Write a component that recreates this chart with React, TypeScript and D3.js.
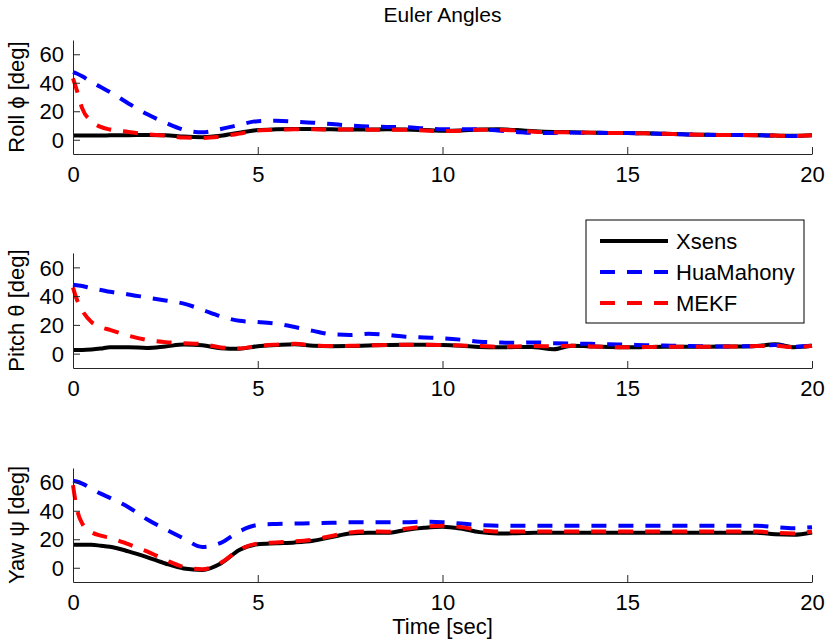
import React, { useEffect, useRef } from "react";
import * as d3 from "d3";

// sample times (sec)
const time = [0, 0.1, 0.25, 0.5, 0.75, 1, 1.5, 2, 2.5, 3, 3.5, 4, 4.5, 5, 5.5, 6, 6.5, 7, 7.5, 8, 8.5, 9, 9.5, 10, 10.5, 11, 11.5, 12, 12.5, 13, 13.5, 14, 14.5, 15, 15.5, 16, 16.5, 17, 17.5, 18, 18.5, 19, 19.5, 20];

const rollXsens = [3, 3, 3, 3, 3, 3.1, 3.2, 3.3, 3.2, 2.2, 1.8, 2.8, 5, 6.8, 7.3, 7.5, 7.5, 7.3, 7.2, 7.2, 7.3, 7.2, 6.8, 6.3, 6.5, 7.2, 7.3, 6.8, 6, 5.5, 5.3, 5, 4.8, 4.7, 4.5, 4.2, 3.8, 3.5, 3.4, 3.3, 3.2, 2.9, 2.8, 3.2];
const rollHua = [47.5, 46.5, 44.5, 40.5, 37, 33.5, 25.5, 18, 12, 7, 5.2, 7.5, 10.5, 13, 13.3, 12.7, 12, 11, 10, 9.3, 9, 8.8, 8, 7.3, 7.3, 7.3, 6.5, 5.5, 4.8, 4.8, 5, 5, 4.8, 4.7, 4.5, 4.2, 3.8, 3.5, 3.4, 3.3, 3.2, 2.9, 2.6, 3];
const rollMekf = [43, 35, 22, 13, 9, 7.2, 5.5, 3.8, 3, 1.5, 1.3, 2.3, 4.3, 6.5, 7.1, 7.3, 7.3, 7.2, 7.2, 7.1, 7.1, 7, 6.5, 6.1, 6.3, 7, 7, 6.5, 5.6, 5.3, 5.2, 5, 4.8, 4.7, 4.5, 4.2, 3.8, 3.5, 3.4, 3.3, 3.2, 2.9, 2.7, 3.1];

const pitchXsens = [2.5, 2.5, 2.5, 2.8, 3.5, 4.5, 4.5, 4, 5, 6.3, 5.8, 3.8, 3.4, 5.2, 6, 6.6, 5.5, 5.2, 5.3, 5.7, 6, 6.1, 6.1, 6, 5.5, 4.6, 4.4, 4.6, 4.5, 3, 5.5, 5, 4.6, 4.4, 4.6, 4.8, 4.7, 4.8, 4.9, 5, 5.3, 6.5, 4.5, 5.5];
const pitchHua = [48, 47.6, 47, 45.5, 44.3, 43, 41.2, 39, 37, 34.8, 30.5, 26, 22.8, 22, 20.8, 18.5, 15.8, 13.5, 13, 13.8, 13, 11.8, 11.2, 10.7, 9.7, 8.3, 7.8, 7.5, 7.8, 7.3, 7, 6.8, 6.5, 6.2, 5.9, 5.6, 5.3, 5.1, 5, 5.1, 5.3, 6, 4.8, 5.5];
const pitchMekf = [46, 38, 30, 22, 18.5, 16.5, 12.5, 9.5, 8, 7.3, 6.6, 4.3, 3.6, 5.3, 6.2, 6.8, 5.7, 5.3, 5.4, 5.7, 6, 6.1, 6.1, 6, 5.6, 5.3, 4.8, 5, 5.3, 5, 5.5, 5, 4.6, 4.4, 4.6, 4.8, 4.7, 4.8, 4.9, 5, 5.3, 5.5, 4.5, 5.5];

const yawXsens = [16.2, 16.2, 16.2, 16.1, 15.5, 14.8, 11.5, 7.5, 3, -0.5, -1.5, 3, 12.5, 16.5, 17.2, 17.8, 19, 21.5, 24, 24.6, 24.5, 26.5, 28, 28.8, 27.5, 25, 24, 24.2, 24.5, 24.5, 24.5, 24.5, 24.5, 24.5, 24.5, 24.5, 24.5, 24.5, 24.5, 24.5, 24.5, 23.5, 23.2, 24.8];
const yawHua = [61, 60.5, 59, 55.5, 52, 49, 42.5, 34, 27, 20.5, 14.6, 17.5, 25.5, 30, 30.7, 31, 31.3, 31.5, 32, 32, 32, 32, 32.3, 32, 31, 30, 29.5, 29.5, 29.5, 29.5, 29.5, 29.5, 29.5, 29.5, 29.5, 29.5, 29.5, 29.5, 29.5, 29.5, 29.5, 28.5, 27.7, 28.5];
const yawMekf = [58, 42, 31, 25, 22.5, 21, 16.5, 11.5, 5.5, 0.5, -1, 3.5, 12.5, 17, 17.8, 18.5, 19.8, 22.3, 24.8, 25.5, 25.3, 27.3, 28.8, 29.5, 28.5, 26.5, 25.5, 25.5, 25.5, 25.5, 25.5, 25.5, 25.5, 25.5, 25.5, 25.5, 25.5, 25.5, 25.5, 25.5, 25.5, 24.5, 24, 25.5];

const seriesNames = ["Xsens", "HuaMahony", "MEKF"];
const yLabels = ["Roll \u03d5 [deg]", "Pitch \u03b8 [deg]", "Yaw \u03c8 [deg]"];
const xTicks = [0, 5, 10, 15, 20];
const yTicks = [0, 20, 40, 60];

const App = () => {
  const chartRef = useRef<SVGSVGElement>(null);

  useEffect(() => {
    const width = 826;
    const height = 642;
    const font = "'Liberation Sans', Arial, Helvetica, sans-serif";
    const fontSize = 22;
    const colors = ["#000000", "#0000ff", "#ff0000"];
    const dashes = [null, "15 12", "15 12"];

    const svg = d3.select(chartRef.current);
    svg.selectAll("*").remove();
    svg.attr("width", width).attr("height", height);

    const panels = [
      { label: yLabels[0], data: [rollXsens, rollHua, rollMekf], top: 40, bottom: 154 },
      { label: yLabels[1], data: [pitchXsens, pitchHua, pitchMekf], top: 253, bottom: 368 },
      { label: yLabels[2], data: [yawXsens, yawHua, yawMekf], top: 468, bottom: 582 },
    ];

    const x = d3.scaleLinear().domain([0, 20]).range([73, 812]);

    panels.forEach((p) => {
      const y = d3.scaleLinear().domain([-10, 70]).range([p.bottom, p.top]);
      const g = svg.append("g");

      // series lines
      p.data.forEach((vals, i) => {
        const line = d3
          .line<number>()
          .x((_, j) => x(time[j]))
          .y((d) => y(d))
          .curve(d3.curveMonotoneX);
        g.append("path")
          .datum(vals)
          .attr("d", line)
          .attr("fill", "none")
          .attr("stroke", colors[i])
          .attr("stroke-width", 4)
          .attr("stroke-dasharray", dashes[i])
          .attr("stroke-linejoin", "round");
      });

      // axes
      const xAxis = g
        .append("g")
        .attr("transform", `translate(0,${p.bottom})`)
        .call(d3.axisBottom(x).tickValues(xTicks).tickSizeInner(-7).tickSizeOuter(0).tickPadding(12));
      const yAxis = g
        .append("g")
        .attr("transform", `translate(${x(0)},0)`)
        .call(d3.axisLeft(y).tickValues(yTicks).tickSizeInner(-7).tickSizeOuter(0).tickPadding(9));

      [xAxis, yAxis].forEach((a) => {
        a.selectAll("path,line").attr("stroke", "#262626");
        a.selectAll("text").attr("font-family", font).attr("font-size", fontSize).attr("fill", "#000");
      });
      yAxis.selectAll("text").attr("dy", "0.35em");

      // y label
      g.append("text")
        .attr("transform", `translate(24,${(p.top + p.bottom) / 2}) rotate(-90)`)
        .attr("text-anchor", "middle")
        .attr("font-family", font)
        .attr("font-size", fontSize)
        .text(p.label);
    });

    // title
    svg
      .append("text")
      .attr("x", x(10))
      .attr("y", 22)
      .attr("text-anchor", "middle")
      .attr("font-family", font)
      .attr("font-size", 21)
      .text("Euler Angles");

    // x label
    svg
      .append("text")
      .attr("x", x(10))
      .attr("y", 634)
      .attr("text-anchor", "middle")
      .attr("font-family", font)
      .attr("font-size", fontSize)
      .text("Time [sec]");

    // legend
    const legend = svg.append("g").attr("transform", "translate(586,220)");
    legend
      .append("rect")
      .attr("width", 218)
      .attr("height", 103)
      .attr("fill", "#fff")
      .attr("stroke", "#000")
      .attr("stroke-width", 1);

    seriesNames.forEach((name, i) => {
      const cy = 21 + i * 31;
      legend
        .append("line")
        .attr("x1", 14)
        .attr("x2", 82)
        .attr("y1", cy)
        .attr("y2", cy)
        .attr("stroke", colors[i])
        .attr("stroke-width", 4)
        .attr("stroke-dasharray", dashes[i]);
      legend
        .append("text")
        .attr("x", 90)
        .attr("y", cy)
        .attr("dy", "0.35em")
        .attr("font-family", font)
        .attr("font-size", fontSize)
        .text(name);
    });
  }, []);

  return (
    <svg
      ref={chartRef}
      style={{ position: "absolute", left: 0, top: 0, display: "block", background: "#fff" }}
    />
  );
};

export default App;
